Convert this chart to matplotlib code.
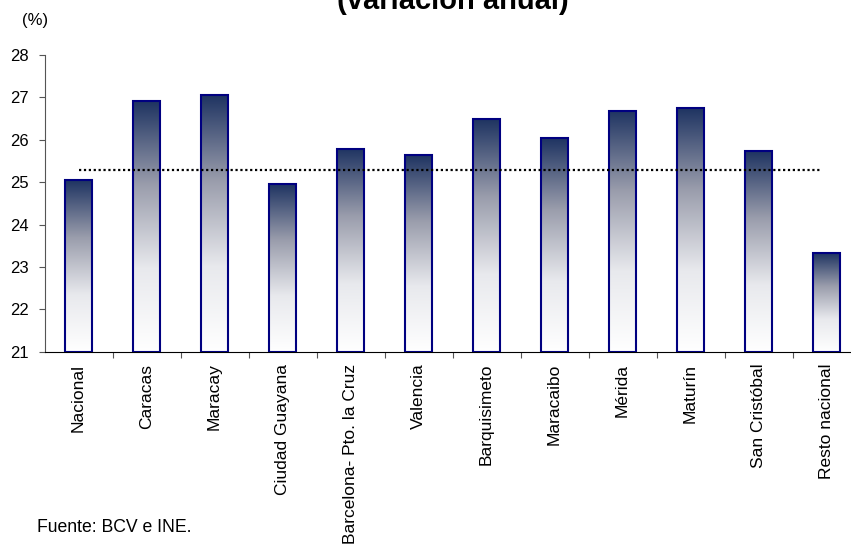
import numpy as np
import matplotlib
matplotlib.use('Agg')
import matplotlib.pyplot as plt
from matplotlib.colors import LinearSegmentedColormap

plt.rcParams['font.family'] = ['Liberation Sans', 'DejaVu Sans']

ciudades = ['Nacional', 'Caracas', 'Maracay', 'Ciudad Guayana',
            'Barcelona- Pto. la Cruz', 'Valencia', 'Barquisimeto', 'Maracaibo',
            'Mérida', 'Maturín', 'San Cristóbal', 'Resto nacional']
variacion = [25.05, 26.92, 27.06, 24.96, 25.79, 25.63, 26.48, 26.03,
             26.69, 26.75, 25.73, 23.32]
promedio = 25.28
ymin, ymax = 21, 28

fig = plt.figure(figsize=(8.51, 5.44), dpi=100)
ax = fig.add_axes([44.5 / 851, 1 - 351.7 / 544, 816 / 851, 296.7 / 544])

cmap = LinearSegmentedColormap.from_list('grad', ['#ffffff', '#e8e9ed', '#9a9dac', '#1f3462'])
grad = np.linspace(0, 1, 256).reshape(-1, 1)

x = np.arange(len(ciudades))
w = 0.41
for xi, v in zip(x, variacion):
    ax.imshow(grad, extent=[xi - w / 2, xi + w / 2, ymin, v], origin='lower',
              aspect='auto', cmap=cmap, zorder=2)
ax.bar(x, np.array(variacion) - ymin, bottom=ymin, width=w,
       facecolor='none', edgecolor='#000080', linewidth=1.5, zorder=3)

# linea punteada del promedio
ax.plot([x[0], x[-1] - 0.1], [promedio, promedio], color='black', linestyle=(0, (1, 1.2)),
        linewidth=1.6, zorder=4)

ax.set_xlim(-0.5, len(ciudades) - 0.5)
ax.set_ylim(ymin, ymax)
ax.set_yticks(range(ymin, ymax + 1))
ax.set_xticks(x + 0.5, minor=False)
ax.set_xticklabels([])
ax.set_xticks(x, minor=True)
ax.set_xticklabels(ciudades, minor=True, rotation=90, va='top', ha='center', fontsize=12.5)
ax.tick_params(axis='x', which='minor', length=0, pad=8.5)
ax.tick_params(axis='x', which='major', length=4, direction='out', color='#555555')
ax.tick_params(axis='y', length=4, direction='out', labelsize=12, color='#555555', pad=7)
for s in ['top', 'right']:
    ax.spines[s].set_visible(False)
ax.spines['left'].set_color('#555555')
ax.spines['bottom'].set_color('black')

fig.text(453 / 851, 1 - 9 / 544, '(variación anual)', ha='center', va='baseline',
         fontsize=21, fontweight='bold')
fig.text(35 / 851, 1 - 21 / 544, '(%)', ha='center', va='center', fontsize=12)
fig.text(37 / 851, 1 - 527 / 544, 'Fuente: BCV e INE.', ha='left', va='center', fontsize=12.7)

fig.savefig('out.png', dpi=100)
